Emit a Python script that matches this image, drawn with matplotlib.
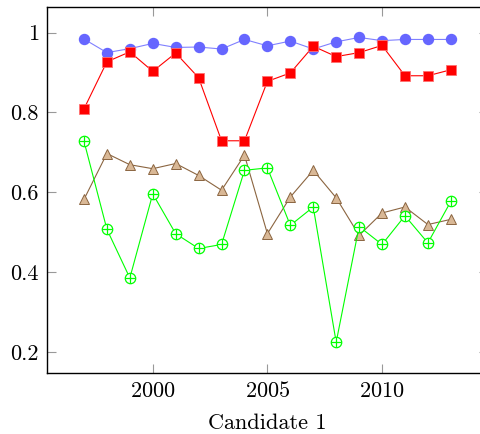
import numpy as np
import matplotlib.pyplot as plt

plt.rcParams['font.family'] = ['cmr10', 'DejaVu Serif']
plt.rcParams['axes.formatter.use_mathtext'] = True

years = np.arange(1997, 2014)

blue = [0.984, 0.950, 0.960, 0.973, 0.963, 0.964, 0.959, 0.983, 0.967,
        0.979, 0.959, 0.977, 0.988, 0.980, 0.983, 0.983, 0.983]
red = [0.809, 0.927, 0.952, 0.903, 0.949, 0.887, 0.729, 0.729, 0.878,
       0.899, 0.966, 0.940, 0.950, 0.968, 0.892, 0.892, 0.907]
brown = [0.582, 0.697, 0.669, 0.659, 0.672, 0.642, 0.605, 0.693, 0.496,
         0.588, 0.655, 0.586, 0.492, 0.548, 0.563, 0.519, 0.532]
green = [0.728, 0.507, 0.385, 0.596, 0.496, 0.459, 0.469, 0.655, 0.661,
         0.517, 0.563, 0.224, 0.514, 0.469, 0.541, 0.473, 0.577]

W, H = 481, 434
fig = plt.figure(figsize=(W / 100, H / 100), dpi=100)
# right edge of the axis box falls just outside the picture
ax = fig.add_axes([47.3 / W, (H - 372.7) / H, (487.5 - 47.3) / W, (372.7 - 7.3) / H])

ax.plot(years, blue, color='#8080ff', lw=0.8, marker='o', ms=7.2,
        mfc='#6666ff', mec='#6666ff', zorder=3)
ax.plot(years, red, color='#ff0000', lw=0.8, marker='s', ms=7.0,
        mfc='#ff0000', mec='#ff7070', mew=0.6, zorder=4)
ax.plot(years, brown, color='#8b6540', lw=0.8, marker='^', ms=6.5,
        mfc='#d9b896', mec='#8b6540', mew=0.7, zorder=2)
ax.plot(years, green, color='#00ff00', lw=0.8, marker='o', ms=7.5,
        mfc='white', mec='#00ff00', mew=0.9, zorder=2)
ax.plot(years, green, ls='none', marker='+', ms=7.5, mec='#00ff00', mew=0.9, zorder=2)

ax.set_xlim(1995.4, 2014.6)
ax.set_ylim(0.1476, 1.0636)
ax.set_xticks([2000, 2005, 2010])
ax.set_yticks([0.2, 0.4, 0.6, 0.8, 1.0])
ax.set_yticklabels(['0.2', '0.4', '0.6', '0.8', '1'])
ax.tick_params(direction='in', length=6.5, width=0.8, color='#999999',
               labelsize=16, top=True, right=True, pad=6)
for s in ax.spines.values():
    s.set_linewidth(1.0)
ax.set_xlabel('Candidate 1', fontsize=16, labelpad=9)

fig.savefig('out.png', dpi=100)
